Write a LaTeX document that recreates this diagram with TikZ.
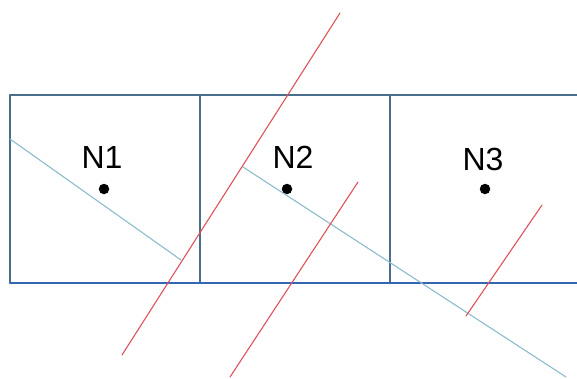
\documentclass[tikz,border=0pt]{standalone}
\usepackage{fontspec}
\setmainfont{Liberation Sans}
\definecolor{cellgray}{RGB}{72,110,140}
\definecolor{cellblue}{RGB}{52,102,178}
\definecolor{cutred}{RGB}{222,82,92}
\definecolor{normteal}{RGB}{140,188,204}
\begin{document}
\begin{tikzpicture}[x=1pt,y=-1pt,line cap=round,line join=round]
\useasboundingbox (0,0) rectangle (577,378);
\tikzset{cellline/.style={draw=cellgray,line width=1.8pt},
  cutline/.style={draw=cutred,line width=1.1pt},
  normline/.style={draw=normteal,line width=1.1pt},
  dot/.style={circle,fill=black,inner sep=0pt,minimum size=10.5pt},
  lbl/.style={font=\fontsize{32}{36}\selectfont,inner sep=0pt}}
% cells
\draw[cellline] (10,95) -- (577,95);
\foreach \x in {10,200,390}{\draw[cellline] (\x,95) -- (\x,283);}
\draw[cellline,draw=cellblue] (10,283) -- (577,283);
% nodes and labels
\foreach \n/\x/\lx/\ly in {1/104/102/157,2/287/293/157,3/485/483/159}{
  \node[dot] (d\n) at (\x,189) {};
  \node[lbl] (n\n) at (\lx,\ly) {N\n};}
% cut lines
\coordinate (a1) at (340,13);  \coordinate (a2) at (122,355);
\coordinate (b1) at (358,182); \coordinate (b2) at (230,377);
\coordinate (c1) at (542,205); \coordinate (c2) at (466,316);
% normals
\coordinate (e1) at (10,139);  \coordinate (e2) at (181,260);
\coordinate (f1) at (243,167); \coordinate (f2) at (566,377);
\draw[normline] (e1) -- (e2);
\draw[normline] (f1) -- (f2);
\draw[cutline] (a1) -- (a2);
\draw[cutline] (b1) -- (b2);
\draw[cutline] (c1) -- (c2);
\end{tikzpicture}
\end{document}
